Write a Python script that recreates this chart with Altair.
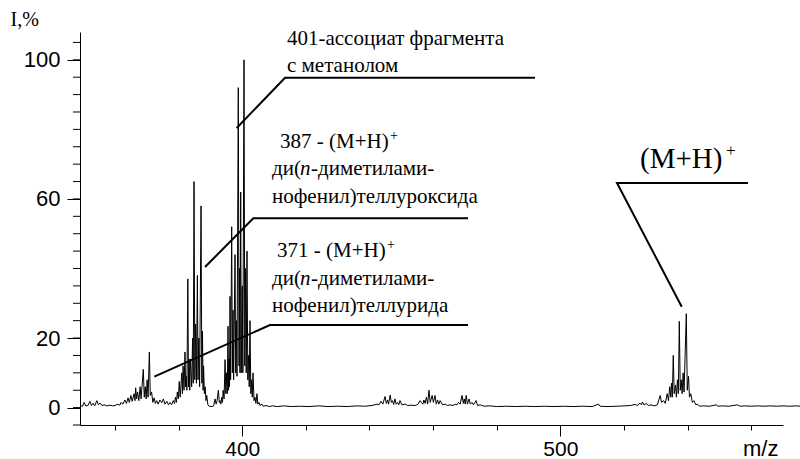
import altair as alt
import pandas as pd

# ---------------- spectrum profile (m/z, relative intensity %) ----------------
mz = [349.0, 349.8, 350.3, 350.8, 351.5, 352.1, 352.6, 353.1, 353.6, 354.3, 354.8, 355.3, 355.9, 356.6,
      357.5, 358.4, 359.2, 360.0, 360.9, 361.5, 361.9, 362.5, 363.1, 363.6, 364.1, 364.5, 365.0, 365.4,
      366.0, 366.3, 366.5, 366.8, 367.1, 367.5, 367.9, 368.2, 368.9, 369.2, 369.5, 369.8, 370.1, 370.4,
      370.8, 371.1, 371.5, 371.9, 372.3, 372.7, 373.1, 373.6, 374.1, 374.7, 375.2, 375.7, 376.3, 376.8,
      377.3, 377.8, 378.3, 378.7, 379.0, 379.3, 379.6, 379.9, 380.2, 380.5, 381.0, 381.2, 381.4, 381.7,
      382.0, 382.2, 382.4, 382.6, 382.9, 383.1, 383.3, 383.5, 383.7, 384.1, 384.4, 384.6, 384.85, 385.1,
      385.35, 385.6, 385.9, 386.1, 386.35, 386.6, 387.05, 387.3, 387.5, 387.7, 387.85, 388.1, 388.35, 388.6,
      388.85, 389.2, 389.6, 390.5, 391.0, 391.45, 391.8, 392.1, 392.5, 392.8, 393.0, 393.3, 393.55, 393.8,
      394.0, 394.3, 394.6, 394.85, 395.06, 395.3, 395.53, 395.7, 395.84, 396.0, 396.16, 396.35, 396.69, 396.9,
      397.1, 397.3, 397.73, 397.95, 398.2, 398.35, 398.76, 399.0, 399.14, 399.3, 399.52, 399.7, 400.0, 400.2,
      400.56, 400.8, 401.03, 401.25, 401.5, 401.75, 401.97, 402.2, 402.44, 402.7, 402.92, 403.15, 403.39, 403.7,
      404.0, 404.3, 404.64, 404.9, 405.27, 405.6, 406.21, 406.6, 407.47, 408.5, 409.5, 411.0, 413.0, 415.5,
      418.0, 421.0, 424.0, 427.0, 430.0, 433.0, 436.0, 438.5, 440.8, 442.4, 443.0, 443.6, 444.2, 444.9,
      445.3, 445.7, 446.0, 446.5, 446.9, 447.25, 447.6, 448.0, 448.4, 448.8, 449.2, 449.6, 450.2, 451.2,
      452.0, 453.0, 454.3, 455.2, 455.9, 456.3, 456.8, 457.1, 457.5, 457.9, 458.3, 458.7, 459.1, 459.7,
      460.1, 460.6, 461.0, 461.4, 461.8, 462.2, 463.0, 463.8, 464.5, 465.3, 466.3, 466.9, 467.5, 468.0,
      468.5, 469.1, 469.5, 469.8, 470.1, 470.4, 470.8, 471.3, 471.7, 472.2, 472.7, 473.5, 474.0, 474.8,
      476.0, 478.0, 480.0, 483.0, 486.0, 489.0, 492.0, 495.0, 498.0, 501.0, 504.0, 507.0, 510.0, 512.0,
      512.5, 515.0, 518.0, 520.0, 522.0, 523.5, 524.3, 525.0, 525.5, 525.8, 526.3, 527.0, 527.7, 528.5,
      529.5, 530.5, 531.4, 531.8, 532.5, 533.0, 533.6, 534.0, 534.4, 534.7, 534.95, 535.2, 535.5, 535.8,
      536.2, 536.5, 536.8, 537.1, 537.4, 537.7, 538.0, 538.3, 538.6, 538.9, 539.6, 539.9, 540.3, 540.6,
      541.0, 541.5, 542.0, 542.6, 543.0, 543.8, 545.0, 547.0, 549.0, 549.6, 551.0, 553.0, 555.7, 556.5,
      558.0, 560.0, 562.0, 564.0, 566.0, 568.0, 570.0, 572.0, 574.0, 575.5]
intensity = [0.5, 0.4, 1.5, 0.5, 0.6, 1.8, 0.6, 1.2, 0.5, 2.0, 0.8, 1.3, 0.6, 0.8,
             0.5, 0.7, 0.5, 0.6, 1.0, 0.7, 1.5, 1.0, 2.2, 1.2, 2.8, 1.5, 3.5, 1.8,
             4.0, 2.0, 5.7, 2.5, 4.5, 2.0, 6.0, 2.5, 11.0, 3.0, 6.0, 2.5, 8.0, 3.0,
             16.0, 3.5, 4.5, 1.5, 2.8, 1.2, 2.0, 1.0, 2.2, 1.4, 2.5, 1.0, 1.8, 0.8,
             1.5, 0.8, 2.0, 1.2, 3.0, 1.5, 4.5, 2.5, 7.5, 3.0, 10.0, 4.0, 12.0, 5.0,
             16.0, 6.0, 9.0, 5.0, 37.0, 6.0, 14.0, 5.0, 14.0, 6.0, 20.0, 7.0, 65.0, 8.0,
             24.0, 7.0, 38.0, 8.0, 20.0, 6.0, 58.0, 7.0, 22.0, 5.0, 12.0, 4.0, 6.0, 2.0,
             3.5, 0.8, 0.4, 0.3, 0.5, 2.5, 1.0, 2.0, 5.0, 1.5, 2.0, 1.0, 3.0, 1.5,
             5.0, 2.5, 13.8, 4.0, 10.0, 4.0, 23.4, 5.0, 14.0, 6.0, 32.0, 8.0, 52.0, 10.0,
             28.0, 8.0, 44.0, 10.0, 25.0, 9.0, 92.0, 12.0, 40.0, 10.0, 62.0, 10.0, 35.0, 10.0,
             100.0, 12.0, 40.0, 10.0, 45.0, 8.0, 15.0, 6.0, 25.0, 4.0, 8.0, 3.0, 10.0, 2.0,
             3.0, 1.2, 4.0, 1.0, 1.5, 0.6, 1.0, 0.4, 0.6, 0.3, 0.5, 0.3, 0.5, 0.3,
             0.4, 0.3, 0.5, 0.3, 0.4, 0.3, 0.5, 0.4, 0.6, 1.0, 0.8, 1.8, 1.0, 3.2,
             1.2, 2.2, 1.0, 3.6, 1.5, 2.0, 0.9, 2.5, 1.0, 1.5, 0.8, 2.0, 0.8, 1.0,
             0.6, 0.7, 0.6, 0.9, 2.0, 1.5, 1.0, 2.2, 1.2, 3.0, 1.0, 5.0, 1.5, 3.5,
             1.5, 3.5, 1.0, 2.2, 1.0, 2.0, 0.8, 1.0, 0.6, 0.8, 0.6, 1.0, 0.8, 1.5,
             1.0, 3.5, 1.2, 2.5, 1.0, 3.5, 1.0, 2.5, 1.0, 1.5, 0.8, 2.0, 0.6, 0.8,
             0.4, 0.5, 0.3, 0.4, 0.3, 0.4, 0.3, 0.4, 0.3, 0.4, 0.3, 0.4, 0.3, 1.0,
             0.4, 0.3, 0.4, 0.5, 0.6, 0.9, 0.6, 1.3, 0.8, 1.6, 0.8, 1.2, 0.6, 0.8,
             0.5, 0.8, 3.5, 1.5, 2.0, 1.2, 4.0, 2.0, 6.0, 3.0, 7.0, 3.0, 15.0, 4.0,
             6.5, 3.0, 8.0, 4.0, 24.8, 5.0, 8.0, 4.0, 10.0, 4.5, 27.0, 5.0, 9.0, 3.0,
             4.0, 1.5, 2.0, 0.8, 1.0, 0.4, 0.5, 0.4, 0.8, 0.4, 0.5, 0.4, 0.8, 0.4,
             0.5, 0.4, 0.5, 0.4, 0.5, 0.4, 0.5, 0.4, 0.5, 0.4]

# ---------------- leader lines (data units) ----------------
lead_group = ["a", "a", "a", "b", "b", "b", "c", "c", "c", "d", "d", "d"]
lead_order = [0, 1, 2, 0, 1, 2, 0, 1, 2, 0, 1, 2]
lead_mz = [398.26, 413.45, 492.04, 388.30, 403.48, 470.98, 372.36, 408.73, 470.98, 538.16, 517.82, 559.0]
lead_I = [80.4, 94.86, 94.86, 40.43, 54.43, 54.43, 8.89, 23.75, 23.75, 29.01, 64.58, 64.58]

# ---------------- annotation texts ----------------
txt_mz = [414.07, 414.07, 411.87, 409.36, 409.36, 410.93, 409.36, 409.36]
txt_I = [104.26, 96.5, 74.65, 66.88, 58.83, 43.30, 35.25, 27.49]
txt = ["401-ассоциат фрагмента", "с метанолом", "387 - (M+H)", "ди(", "нофенил)теллуроксида",
       "371 - (M+H)", "ди(", "нофенил)теллурида"]

ital_mz = [409.36, 409.36]
ital_I = [66.88, 35.25]
ital_txt = ["п", "п"]

rest_mz = [409.36, 409.36]
rest_I = [66.88, 35.25]
rest_txt = ["-диметилами-", "-диметилами-"]

sup_mz = [411.87, 410.93]
sup_I = [74.65, 43.30]
sup_txt = ["+", "+"]

mh_mz = [525.04]
mh_I = [68.9]
mh_txt = ["(M+H)"]

y_minor_ticks = [-5, 0, 5, 10, 15, 20, 25, 30, 35, 40, 45, 50, 55, 60, 65, 70, 75, 80, 85, 90, 95, 100, 105]
y_labeled = [0, 20, 60, 100]
x_ticks = [360, 380, 400, 420, 440, 460, 480, 500, 520, 540, 560]
x_labeled = [400, 500]

XD = [349, 570]
YD = [-5, 108]

spec = pd.DataFrame({"mz": mz, "I": intensity})
lead = pd.DataFrame({"mz": lead_mz, "I": lead_I, "g": lead_group, "o": lead_order})
tdf = pd.DataFrame({"mz": txt_mz, "I": txt_I, "t": txt})
idf = pd.DataFrame({"mz": ital_mz, "I": ital_I, "t": ital_txt})
rdf = pd.DataFrame({"mz": rest_mz, "I": rest_I, "t": rest_txt})
sdf = pd.DataFrame({"mz": sup_mz, "I": sup_I, "t": sup_txt})
mdf = pd.DataFrame({"mz": mh_mz, "I": mh_I, "t": mh_txt})
yminor = pd.DataFrame({"I": y_minor_ticks})

xlab_test = "indexof(" + str(x_labeled) + ", datum.value) >= 0"

xscale = alt.Scale(domain=XD, nice=False, zero=False)
yscale = alt.Scale(domain=YD, nice=False, zero=False)

x_axis = alt.Axis(
    values=x_ticks, grid=False, domainColor="black", tickColor="black", labelColor="black",
    tickSize={"condition": {"test": xlab_test, "value": 11}, "value": 5},
    labelExpr=xlab_test + " ? datum.label : ''", labelOverlap=False, labelFlush=False,
    labelFont="Liberation Sans", labelFontSize=21, labelPadding=2,
    title="m/z", titleFont="Liberation Sans", titleFontSize=22, titleFontWeight="normal",
    titleColor="black", titleAnchor="start", titleAlign="right", titleBaseline="alphabetic",
    titleX=698, titleY=30,
)
y_axis = alt.Axis(
    values=y_labeled, grid=False, domain=True, domainColor="black", domainWidth=1,
    ticks=True, tickColor="black", tickSize=13, tickWidth=1,
    labels=True, labelColor="black", labelOverlap=False, labelFlush=False,
    labelFont="Liberation Sans", labelFontSize=22, labelPadding=7,
    title="I,%", titleFont="Liberation Serif", titleFontSize=20, titleFontWeight="normal",
    titleColor="black", titleAngle=0, titleAnchor="start", titleAlign="left",
    titleBaseline="alphabetic", titleX=-70, titleY=-7,
)

base_x = alt.X("mz:Q", scale=xscale, axis=x_axis)
base_y = alt.Y("I:Q", scale=yscale, axis=y_axis)
X = alt.X("mz:Q", scale=xscale)
Y = alt.Y("I:Q", scale=yscale)

spectrum = alt.Chart(spec).mark_line(color="black", strokeWidth=1, clip=False).encode(x=base_x, y=base_y)

# short minor ticks on the y axis every 5 %
minor_y = alt.Chart(yminor).mark_rule(color="black", strokeWidth=1).encode(
    y=Y, x=alt.value(-7), x2=alt.value(0))

leaders = alt.Chart(lead).mark_line(color="black", strokeWidth=2).encode(
    x=X, y=Y, detail="g:N", order="o:Q")

FONT = "Liberation Serif"
FS = 21
texts = alt.Chart(tdf).mark_text(font=FONT, fontSize=FS, align="left", baseline="alphabetic",
                                 color="black").encode(x=X, y=Y, text="t:N")
ital = alt.Chart(idf).mark_text(font=FONT, fontSize=FS, fontStyle="italic", align="left",
                                baseline="alphabetic", color="black", dx=28).encode(x=X, y=Y, text="t:N")
rest = alt.Chart(rdf).mark_text(font=FONT, fontSize=FS, align="left", baseline="alphabetic",
                                color="black", dx=39).encode(x=X, y=Y, text="t:N")
sups = alt.Chart(sdf).mark_text(font=FONT, fontSize=14, align="left", baseline="alphabetic",
                                color="black", dx=110, dy=-8).encode(x=X, y=Y, text="t:N")
mh = alt.Chart(mdf).mark_text(font=FONT, fontSize=29, align="left", baseline="alphabetic",
                              color="black").encode(x=X, y=Y, text="t:N")
mh_sup = alt.Chart(mdf).mark_text(font=FONT, fontSize=17, align="left", baseline="alphabetic",
                                  color="black", dx=86, dy=-12).encode(x=X, y=Y, text=alt.value("+"))

chart = alt.layer(spectrum, minor_y, leaders, texts, ital, rest, sups, mh, mh_sup).properties(
    width=703, height=393,
    autosize=alt.AutoSizeParams(type="none"),
    padding={"left": 80, "top": 32, "right": 17, "bottom": 34},
    background="white",
).configure_view(stroke=None)

chart.save("out.html", embed_options={"renderer": "svg", "actions": False})
